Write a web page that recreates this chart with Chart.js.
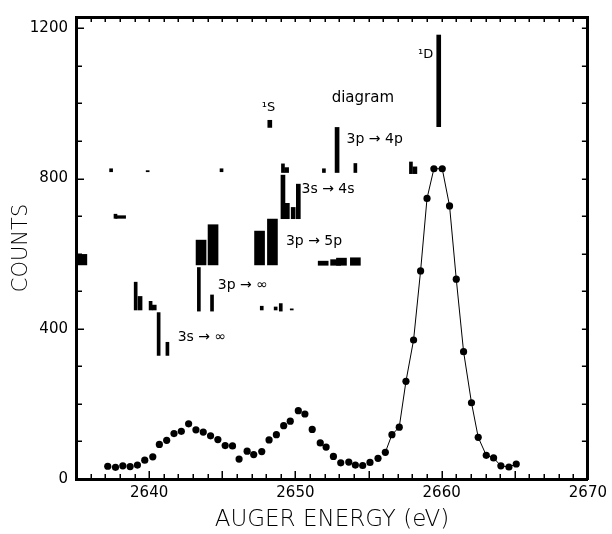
<!DOCTYPE html>
<html>
<head>
<meta charset="utf-8">
<script src="https://cdn.jsdelivr.net/npm/chart.js@4.4.0/dist/chart.umd.min.js"></script>
<style>
    html, body { margin: 0; padding: 0; background: #fff; }
    #wrap { width: 612px; height: 534px; }
</style>
</head>
<body>
<div id="wrap"><canvas id="augerChart" width="612" height="534"></canvas></div>
<script>

// measured spectrum (eV, counts)
var energies = [
    2637.17, 2637.7, 2638.2, 2638.7, 2639.2, 2639.7, 2640.25, 2640.7, 2641.2, 2641.7,
    2642.2, 2642.7, 2643.2, 2643.7, 2644.2, 2644.7, 2645.2, 2645.7, 2646.15, 2646.7,
    2647.15, 2647.7, 2648.2, 2648.7, 2649.2, 2649.65, 2650.2, 2650.65, 2651.15, 2651.7,
    2652.1, 2652.6, 2653.1, 2653.65, 2654.1, 2654.6, 2655.1, 2655.65, 2656.15, 2656.6,
    2657.1, 2657.56, 2658.08, 2658.56, 2659.0, 2659.47, 2660.04, 2660.54, 2661.0, 2661.5,
    2662.04, 2662.5, 2663.05, 2663.55, 2664.05, 2664.6, 2665.1
];
var counts = [
    34, 31, 35, 33, 37, 50, 59, 92, 103, 121,
    127, 147, 131, 125, 115, 105, 89, 88, 53, 74,
    65, 73, 104, 118, 142, 154, 182, 173, 132, 96,
    85, 60, 43, 45, 37, 36, 44, 55, 71, 118,
    138, 260, 370, 554, 747, 826, 826, 727, 532, 339,
    203, 111, 63, 56, 35, 32, 40
];
// the drawn curve starts at this point
var curveStart = 38;

var xTicks = [2640, 2650, 2660, 2670];
var yTicks = [0, 400, 800, 1200];

// stick spectra: [energy, base, top]
var thinSticks = [
    [2640.65, 329, 443], [2641.25, 329, 364],
    [2639.08, 450, 524], [2640.1, 450, 473], [2643.4, 447, 563], [2644.3, 447, 490],
    [2647.7, 450, 460], [2648.65, 450, 458], [2649.0, 447, 467], [2649.75, 450, 453],
    [2637.4, 818, 826], [2639.9, 818, 821], [2644.95, 818, 826], [2649.15, 816, 839],
    [2651.95, 816, 826], [2654.1, 816, 840], [2657.9, 813, 844],
    [2637.7, 694, 705]
];
var mediumSticks = [
    [2639.38, 450, 486], [2640.35, 450, 463],
    [2649.4, 816, 829], [2658.17, 813, 831], [2652.85, 816, 936],
    [2648.25, 936, 955], [2659.8, 938, 1182],
    [2649.15, 693, 809], [2649.45, 693, 734], [2649.85, 693, 723], [2650.2, 693, 785]
];
var blockSticks = [
    [2635.4, 570, 598], [2643.55, 570, 636], [2644.37, 570, 677], [2647.55, 570, 660],
    [2648.43, 570, 692], [2651.9, 569, 580], [2652.75, 569, 584], [2653.15, 569, 588],
    [2654.1, 569, 589],
    [2638.05, 694, 701]
];

var labels = [
    { text: '\u00B9S', x: 2647.7, y: 989, size: 13 },
    { text: '\u00B9D', x: 2658.38, y: 1129, size: 13 },
    { text: 'diagram', x: 2652.48, y: 1013, size: 15 },
    { text: '3p \u2192 4p', x: 2653.5, y: 905, size: 14 },
    { text: '3s \u2192 4s', x: 2650.42, y: 771, size: 14 },
    { text: '3p \u2192 5p', x: 2649.35, y: 632, size: 14 },
    { text: '3p \u2192 \u221E', x: 2644.69, y: 516, size: 14 },
    { text: '3s \u2192 \u221E', x: 2641.95, y: 376, size: 14 }
];

var fontFamily = '"DejaVu Sans", sans-serif';

function toPoints(xs, ys) {
    return xs.map(function (x, i) {
        return { x: x, y: ys[i] };
    });
}

function toSticks(list) {
    return list.map(function (s) {
        return { x: s[0], y: [s[1], s[2]] };
    });
}

function stickDataset(list, thickness) {
    return {
        type: 'bar',
        data: toSticks(list),
        backgroundColor: '#000',
        borderWidth: 0,
        barThickness: thickness,
        grouped: false
    };
}

function plainLabel(value) {
    return String(value);
}

// inward ticks on the four sides plus the line labels
var frameAndLabels = {
    id: 'frameAndLabels',
    afterDraw: function (chart) {
        var ctx = chart.ctx;
        var area = chart.chartArea;
        var xs = chart.scales.x;
        var ys = chart.scales.y;
        var len;

        ctx.save();
        ctx.strokeStyle = '#000';
        ctx.lineWidth = 1.5;
        ctx.beginPath();
        for (var e = 2636; e < 2670; e++) {
            var px = Math.round(xs.getPixelForValue(e)) + 0.25;
            len = e % 5 === 0 ? 8 : 5;
            ctx.moveTo(px, area.bottom);
            ctx.lineTo(px, area.bottom - len);
            ctx.moveTo(px, area.top);
            ctx.lineTo(px, area.top + 5);
        }
        for (var c = 100; c < 1230; c += 100) {
            var py = Math.round(ys.getPixelForValue(c)) + 0.25;
            len = c % 400 === 0 ? 8 : 6;
            ctx.moveTo(area.left, py);
            ctx.lineTo(area.left + len, py);
            ctx.moveTo(area.right, py);
            ctx.lineTo(area.right - 6, py);
        }
        ctx.stroke();

        ctx.fillStyle = '#000';
        ctx.textAlign = 'left';
        ctx.textBaseline = 'middle';
        labels.forEach(function (l) {
            ctx.font = l.size + 'px ' + fontFamily;
            ctx.fillText(l.text, xs.getPixelForValue(l.x), ys.getPixelForValue(l.y));
        });
        ctx.restore();
    }
};

var ctxAuger = document.getElementById('augerChart').getContext('2d');
var augerChart = new Chart(ctxAuger, {
    type: 'scatter',
    data: {
        datasets: [
            {
                type: 'line',
                data: toPoints(energies.slice(curveStart), counts.slice(curveStart)),
                borderColor: '#000',
                borderWidth: 1,
                pointRadius: 0,
                fill: false,
                tension: 0
            },
            {
                type: 'scatter',
                data: toPoints(energies, counts),
                pointRadius: 3.6,
                pointBackgroundColor: '#000',
                pointBorderWidth: 0
            },
            stickDataset(thinSticks, 3),
            stickDataset(mediumSticks, 4),
            stickDataset(blockSticks, 10)
        ]
    },
    options: {
        responsive: false,
        animation: false,
        layout: { padding: 0 },
        plugins: {
            legend: { display: false },
            tooltip: { enabled: false }
        },
        scales: {
            x: {
                type: 'linear',
                position: 'bottom',
                min: 2635,
                max: 2670,
                offset: false,
                grid: { display: false, drawTicks: false, offset: false },
                border: { display: true, width: 3, color: '#000' },
                afterBuildTicks: function (scale) {
                    scale.ticks = xTicks.map(function (v) { return { value: v }; });
                },
                afterFit: function (scale) { scale.height = 55; },
                ticks: {
                    padding: 5,
                    color: '#000',
                    font: { family: fontFamily, size: 15 },
                    maxRotation: 0,
                    callback: plainLabel
                },
                title: {
                    display: true,
                    text: 'AUGER ENERGY (eV)',
                    color: '#000',
                    padding: { top: 0, bottom: 0 },
                    font: { family: fontFamily, size: 23, weight: 200 }
                }
            },
            y: {
                type: 'linear',
                position: 'left',
                min: 0,
                max: 1230,
                grid: { display: false, drawTicks: false },
                border: { display: true, width: 3, color: '#000' },
                afterBuildTicks: function (scale) {
                    scale.ticks = yTicks.map(function (v) { return { value: v }; });
                },
                afterFit: function (scale) { scale.width = 76; },
                ticks: {
                    padding: 8,
                    color: '#000',
                    font: { family: fontFamily, size: 15 },
                    callback: plainLabel
                },
                title: {
                    display: true,
                    text: 'COUNTS',
                    color: '#000',
                    padding: { top: 9, bottom: 0 },
                    font: { family: fontFamily, size: 21, weight: 200 }
                }
            },
            xTop: {
                type: 'linear',
                position: 'top',
                min: 2635,
                max: 2670,
                grid: { display: false, drawTicks: false },
                border: { display: true, width: 3, color: '#000' },
                ticks: { display: false },
                afterFit: function (scale) { scale.height = 12; }
            },
            yRight: {
                type: 'linear',
                position: 'right',
                min: 0,
                max: 1230,
                grid: { display: false, drawTicks: false },
                border: { display: true, width: 3, color: '#000' },
                ticks: { display: false },
                afterFit: function (scale) { scale.width = 24; }
            }
        }
    },
    plugins: [frameAndLabels]
});

</script>
</body>
</html>
